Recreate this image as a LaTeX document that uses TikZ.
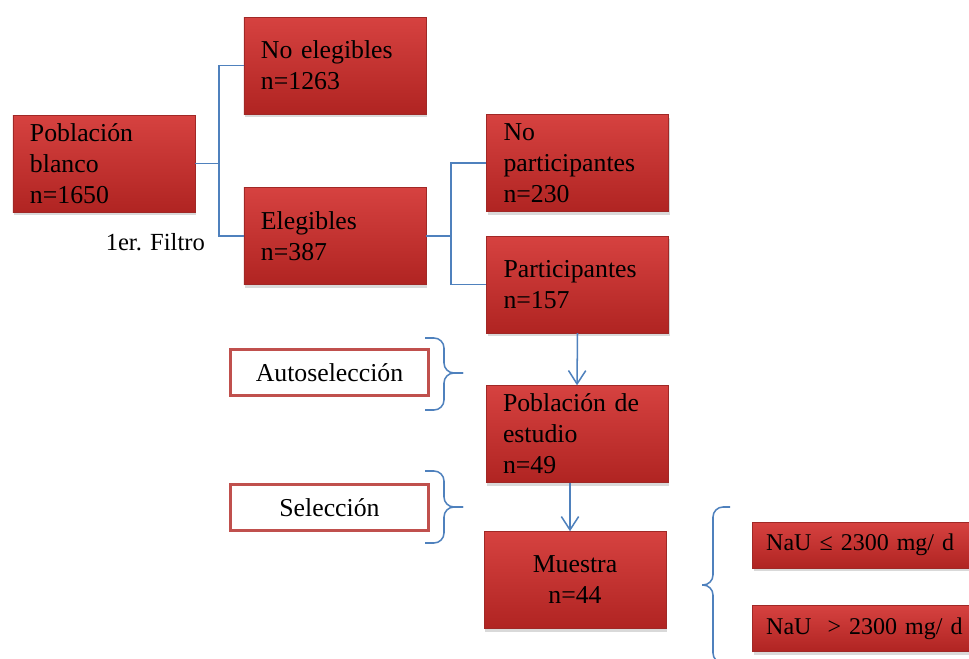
\documentclass[tikz,border=0pt]{standalone}
\usepackage{fontspec}
\setmainfont{Liberation Serif}
\usepackage{tikz}
\usetikzlibrary{
	positioning,
	arrows.meta,
	shadows
}
\definecolor{BoxTop}{RGB}{214,66,64}
\definecolor{BoxMid}{RGB}{200,48,46}
\definecolor{BoxBottom}{RGB}{176,36,34}
\definecolor{BoxEdge}{RGB}{160,40,38}
\definecolor{FrameRed}{RGB}{192,80,77}
\definecolor{LinkBlue}{RGB}{79,129,189}

\tikzset{
	redbox/.style={
		rectangle,
		top color=BoxTop,
		middle color=BoxMid,
		bottom color=BoxBottom,
		draw=BoxEdge,
		line width=0.4pt,
		drop shadow={shadow xshift=0.04cm, shadow yshift=-0.09cm, opacity=0.3},
		minimum width=5.46cm,
		minimum height=2.91cm,
		text width=4.44cm,
		inner xsep=0.51cm,
		inner ysep=0pt,
		align=left,
		font=\fontsize{22}{26.5}\selectfont
	},
	naubox/.style={
		redbox,
		minimum width=7.2cm,
		minimum height=1.38cm,
		text width=8cm,
		inner xsep=0.42cm,
		font=\fontsize{20.5}{25}\selectfont
	},
	framebox/.style={
		rectangle,
		draw=FrameRed,
		line width=0.09cm,
		fill=white,
		minimum width=5.94cm,
		minimum height=1.38cm,
		font=\fontsize{22}{26.5}\selectfont
	},
	link/.style={
		LinkBlue,
		line width=1.3pt
	},
	flow/.style={
		link,
		-{Straight Barb[length=0.4cm, width=0.52cm]}
	},
	curly/.style={
		link,
		rounded corners=0.3cm
	}
}

\begin{document}
\begin{tikzpicture}[x=0.03cm, y=-0.03cm]
	
	\useasboundingbox (0,0) rectangle (969,658);
	\clip (0,0) rectangle (969,658);
	
	% Boxes
	\node[redbox] (blanco) at (104,163.5) {Población\\blanco\\n=1650};
	\node[redbox] (noeleg) at (335,65.5) {No elegibles\\n=1263};
	\node[redbox] (eleg) at (335,236) {Elegibles\\n=387};
	\node[redbox] (nopart) at (577.5,163) {No\\participantes\\n=230};
	\node[redbox] (part) at (577.5,284.5) {Participantes\\n=157};
	\node[redbox] (estudio) at (577,434) {Población de\\estudio\\n=49};
	\node[redbox, align=center] (muestra) at (575,580) {Muestra\\n=44};
	
	\node[naubox, anchor=west] (naumenor) at (752,545) {NaU ≤ 2300 mg/ d};
	\node[naubox, anchor=west] (naumayor) at (752,628.5) {NaU\ \ > 2300 mg/ d};
	
	\node[framebox] (auto) at (329.5,372.5) {Autoselección};
	\node[framebox] (sel) at (329.5,507.5) {Selección};
	
	\node[anchor=east, font=\fontsize{21}{25}\selectfont] (filtro) at (209,242) {1er. Filtro};
	
	% Connections
	\draw[link] (blanco.east) -- ++(24,0) |- (noeleg.west);
	\draw[link] (blanco.east) -- ++(24,0) |- (eleg.west);
	\draw[link] (eleg.east) -- ++(25,0) |- (nopart.west);
	\draw[link] (eleg.east) -- ++(25,0) |- (part.west);
	
	\draw[flow] (part.south) -- (estudio.north);
	\coordinate (bajada) at ([xshift=-0.21cm]estudio.south);
	\draw[flow] (bajada) -- (bajada |- muestra.north);
	
	% Braces
	\draw[curly] (425,338) -- (444,338) -- (444,373) -- (463,373);
	\draw[curly] (463,373) -- (444,373) -- (444,410) -- (425,410);
	
	\draw[curly] (425,471) -- (444,471) -- (444,507) -- (463,507);
	\draw[curly] (463,507) -- (444,507) -- (444,543) -- (425,543);
	
	\draw[curly] (730,507) -- (713,507) -- (713,585) -- (702,585);
	\draw[curly] (702,585) -- (713,585) -- (713,663) -- (730,663);
	
\end{tikzpicture}
\end{document}
